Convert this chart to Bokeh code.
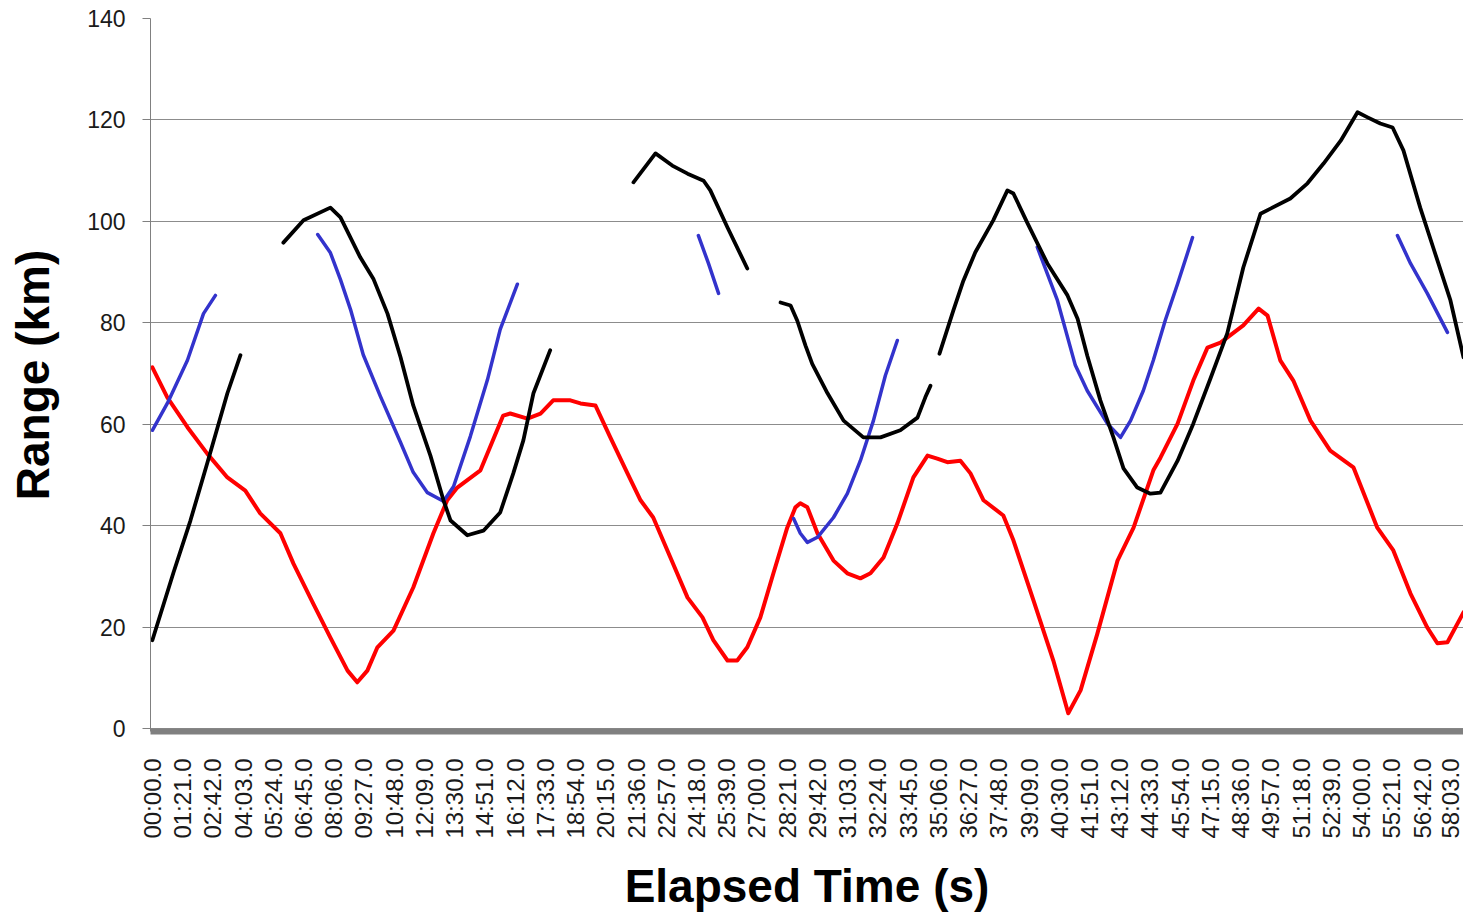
import math

from bokeh.embed import file_html
from bokeh.models import FixedTicker, Range1d
from bokeh.plotting import figure
from bokeh.resources import INLINE

# Category labels along the time axis (mm:ss.s)
tick_labels = [
    "00:00.0", "01:21.0", "02:42.0", "04:03.0", "05:24.0", "06:45.0", "08:06.0",
    "09:27.0", "10:48.0", "12:09.0", "13:30.0", "14:51.0", "16:12.0", "17:33.0",
    "18:54.0", "20:15.0", "21:36.0", "22:57.0", "24:18.0", "25:39.0", "27:00.0",
    "28:21.0", "29:42.0", "31:03.0", "32:24.0", "33:45.0", "35:06.0", "36:27.0",
    "37:48.0", "39:09.0", "40:30.0", "41:51.0", "43:12.0", "44:33.0", "45:54.0",
    "47:15.0", "48:36.0", "49:57.0", "51:18.0", "52:39.0", "54:00.0", "55:21.0",
    "56:42.0", "58:03.0",
]
range_ticks = [0, 20, 40, 60, 80, 100, 120, 140]

# Red track: elapsed seconds and range in km
red_t = [0, 40, 94, 147, 201, 249, 289, 343, 378, 431, 477, 523, 549, 576, 603,
         646, 699, 753, 790, 817, 879, 940, 959, 1005, 1040, 1074, 1120, 1147,
         1187, 1227, 1273, 1308, 1342, 1388, 1434, 1474, 1503, 1541, 1567, 1594,
         1629, 1664, 1701, 1723, 1736, 1755, 1782, 1825, 1862, 1897, 1924, 1959,
         1996, 2039, 2077, 2103, 2130, 2165, 2192, 2227, 2280, 2307, 2361, 2414,
         2454, 2487, 2532, 2586, 2629, 2682, 2701, 2747, 2789, 2827, 2862, 2923,
         2964, 2988, 3022, 3057, 3103, 3156, 3218, 3282, 3325, 3371, 3416, 3443,
         3470, 3513]
red_km = [71.2, 65.3, 59.4, 54.2, 49.5, 46.9, 42.4, 38.5, 32.5, 24.6, 17.9, 11.4,
          9.1, 11.4, 16.0, 19.3, 27.8, 38.5, 45.0, 47.5, 50.9, 61.7, 62.1, 61.1,
          62.1, 64.7, 64.7, 64.1, 63.7, 57.4, 50.3, 45.0, 41.6, 33.7, 25.8, 21.9,
          17.4, 13.4, 13.4, 16.0, 21.9, 30.6, 39.6, 43.6, 44.4, 43.6, 38.5, 33.1,
          30.6, 29.6, 30.6, 33.7, 40.4, 49.5, 53.8, 53.2, 52.5, 52.8, 50.3, 45.0,
          42.0, 37.1, 25.2, 13.4, 3.0, 7.5, 18.7, 33.1, 39.6, 50.9, 53.4, 60.1,
          68.6, 75.1, 76.1, 79.5, 82.8, 81.4, 72.6, 68.6, 60.7, 54.8, 51.5, 39.6,
          35.1, 26.6, 19.9, 16.8, 17.0, 22.9]

# Blue track, recorded in separate passes
blue_t = [
    [0, 40, 94, 137, 169],
    [443, 477, 504, 531, 565, 611, 665, 699, 737, 780, 807, 852, 898, 932, 978],
    [1463, 1490, 1517],
    [1718, 1736, 1755, 1782, 1825, 1862, 1897, 1932, 1964, 1996],
    [2371, 2425, 2473, 2505, 2559, 2594, 2621, 2655, 2682, 2714, 2747, 2787],
    [3336, 3371, 3416, 3470],
]
blue_km = [
    [58.8, 64.1, 72.6, 81.8, 85.4],
    [97.4, 93.8, 88.5, 82.6, 73.7, 65.5, 56.4, 50.5, 46.5, 44.8, 47.7, 57.6, 68.8, 78.7, 87.6],
    [97.2, 91.7, 85.8],
    [41.4, 38.5, 36.7, 37.7, 41.6, 46.3, 52.8, 60.7, 69.6, 76.5],
    [94.9, 84.4, 71.6, 66.6, 60.1, 57.4, 60.7, 66.6, 72.6, 80.5, 87.7, 96.8],
    [97.2, 91.7, 85.8, 78.1],
]

# Black track, recorded in separate passes
black_t = [
    [0, 56, 102, 147, 201, 236],
    [351, 405, 477, 504, 557, 592, 630, 665, 699, 745, 780, 799, 844, 887, 932,
     967, 994, 1021, 1066],
    [1289, 1348, 1393, 1434, 1477, 1495, 1541, 1594],
    [1683, 1710, 1728, 1750, 1768, 1809, 1852, 1905, 1951, 2004, 2050, 2071, 2085],
    [2109, 2146, 2173, 2205, 2253, 2291, 2307, 2345, 2398, 2452, 2479, 2505, 2540,
     2575, 2602, 2639, 2674, 2701, 2747, 2789, 2835, 2880, 2923, 2969, 2996, 3049,
     3095, 3138, 3184, 3229, 3256, 3290, 3323, 3352, 3397, 3432, 3478, 3513],
]
black_km = [
    [17.4, 30.6, 41.0, 52.3, 66.1, 73.6],
    [95.8, 100.2, 102.7, 100.8, 92.9, 88.7, 81.8, 73.2, 63.7, 53.8, 45.0, 41.0,
     38.1, 39.0, 42.6, 50.3, 56.8, 66.1, 74.6],
    [107.7, 113.4, 111.0, 109.4, 108.0, 106.1, 98.8, 90.7],
    [84.0, 83.4, 80.4, 75.5, 71.9, 66.1, 60.7, 57.4, 57.4, 58.8, 61.3, 65.3, 67.6],
    [73.9, 82.4, 88.3, 93.9, 100.2, 106.1, 105.5, 99.6, 91.7, 85.4, 80.8, 73.5,
     64.7, 57.4, 51.3, 47.5, 46.3, 46.5, 52.8, 60.1, 69.0, 77.9, 90.9, 101.5,
     102.5, 104.5, 107.5, 111.4, 115.9, 121.5, 120.5, 119.3, 118.5, 114.0, 102.7,
     94.8, 84.4, 73.2],
]


def to_seconds(label):
    minutes, seconds = label.split(":")
    return int(minutes) * 60 + float(seconds)


tick_pos = [to_seconds(lbl) for lbl in tick_labels]

p = figure(
    width=1463, height=915,
    output_backend="svg", toolbar_location=None,
    x_range=Range1d(-5, 3513), y_range=Range1d(-0.6, 140),
    min_border_left=150, min_border_right=0,
    min_border_top=18, min_border_bottom=184,
    background_fill_color="white", border_fill_color="white",
)
p.outline_line_color = None

FONT = "Liberation Sans"

# Horizontal axis: time categories, thick grey baseline, vertical labels
xa = p.xaxis[0]
xa.ticker = FixedTicker(ticks=tick_pos)
xa.major_label_overrides = {int(t): lbl for t, lbl in zip(tick_pos, tick_labels)}
xa.major_label_orientation = math.pi / 2
xa.major_label_text_font = FONT
xa.major_label_text_font_size = "24px"
xa.major_label_text_color = "#1a1a1a"
xa.major_label_standoff = 21
xa.major_tick_line_color = None
xa.minor_tick_line_color = None
xa.axis_line_color = "#808080"
xa.axis_line_width = 6
xa.axis_label = "Elapsed Time (s)"
xa.axis_label_text_font = FONT
xa.axis_label_text_font_style = "bold"
xa.axis_label_text_font_size = "46px"
xa.axis_label_text_color = "black"
xa.axis_label_standoff = 18

# Vertical axis: range in km
ya = p.yaxis[0]
ya.ticker = FixedTicker(ticks=range_ticks)
ya.major_label_text_font = FONT
ya.major_label_text_font_size = "23px"
ya.major_label_text_color = "#1a1a1a"
ya.major_label_standoff = 17
ya.major_tick_out = 8
ya.major_tick_in = 0
ya.major_tick_line_color = "#808080"
ya.minor_tick_line_color = None
ya.axis_line_color = "#808080"
ya.axis_label = "Range (km)"
ya.axis_label_text_font = FONT
ya.axis_label_text_font_style = "bold"
ya.axis_label_text_font_size = "46px"
ya.axis_label_text_color = "black"
ya.axis_label_standoff = 25

p.xgrid.grid_line_color = None
p.ygrid.ticker = FixedTicker(ticks=range_ticks)
p.ygrid.grid_line_color = "#8c8c8c"
p.ygrid.grid_line_width = 1

# Tracks
p.line(red_t, red_km, line_color="#ff0000", line_width=4, line_join="round", line_cap="round")
p.multi_line(blue_t, blue_km, line_color="#3333cc", line_width=3.5, line_join="round", line_cap="round")
p.multi_line(black_t, black_km, line_color="#000000", line_width=3.8, line_join="round", line_cap="round")

open("out.html", "w").write(file_html(p, INLINE))
